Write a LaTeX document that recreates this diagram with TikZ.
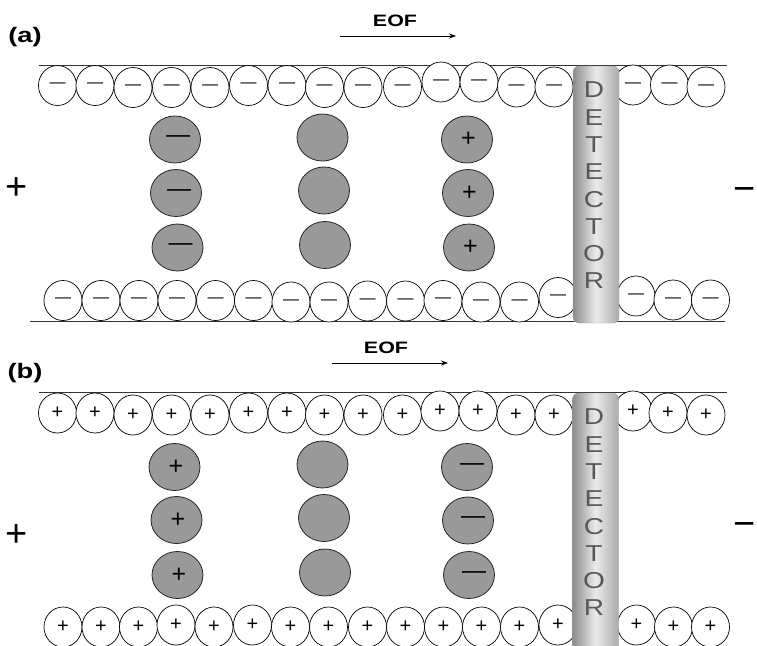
\documentclass[tikz,border=0pt]{standalone}
\usepackage{fontspec}
\setmainfont{Liberation Sans}
\usetikzlibrary{shapes.geometric,arrows.meta}
\newcommand\wdr[1]{\scalebox{1.22}[1]{#1}}
\newcommand\wdt[1]{\scalebox{1.3}[1]{#1}}
\begin{document}
\begin{tikzpicture}[x=1pt,y=-1pt,
  wall/.style={draw=black!80,line width=0.9pt},
  ion/.style={ellipse,draw=black,line width=0.7pt,fill=white,minimum width=38pt,minimum height=40pt,inner sep=0pt},
  negion/.style={ion,font=\fontsize{16}{16}\selectfont},
  posion/.style={ion,font=\fontsize{20}{20}\selectfont},
  analyte/.style={ellipse,draw=black!85,line width=0.8pt,fill=black!40,minimum width=51pt,minimum height=47pt,inner sep=0pt},
  neganalyte/.style={analyte,font=\fontsize{24}{24}\selectfont},
  posanalyte/.style={analyte,font=\fontsize{25}{25}\selectfont},
  detbar/.style={rounded corners=6pt,minimum width=46pt,inner sep=0pt,left color=black!45,right color=black!33,middle color=black!8,draw=black!35,line width=0.4pt},
  detlabel/.style={align=center,text=black!65,font=\fontsize{23}{27.3}\selectfont,inner sep=0pt},
  eoflabel/.style={font=\bfseries\fontsize{16.5}{16.5}\selectfont,inner sep=0pt},
  panellabel/.style={font=\bfseries\fontsize{21}{21}\selectfont,inner sep=0pt},
  pole/.style={font=\fontsize{38}{38}\selectfont,inner sep=0pt},
  flow/.style={line width=0.8pt,-{Stealth[length=7pt,width=5pt]}},
]
\useasboundingbox (0,0) rectangle (757,645);
\clip (0,0) rectangle (757,645);

% ---------------- panel (a) ----------------
\node[panellabel] (laba) at (25,37) {\wdt{(a)}};
\node[eoflabel] (eofa) at (395,21) {\wdt{EOF}};
\coordinate (eofa1) at (340,36);
\coordinate (eofa2) at (456,36);
\draw[flow] (eofa1) -- (eofa2);

\coordinate (wta1) at (39,65);  \coordinate (wta2) at (727,65);
\coordinate (wba1) at (30,321); \coordinate (wba2) at (725,321);
\draw[wall] (wta1) -- (wta2);
\draw[wall] (wba1) -- (wba2);

\foreach \x/\y [count=\i] in {57.5/85.5,95/85.5,133/87.5,171.5/87.5,210/87.5,248.5/85.5,287/85.5,324.5/87.5,363/87.5,402.5/87,441/82,479/82,516.5/87,554/87,633/85,669.5/85,706/87}
  \node[negion] (ta\i) at (\x,\y) {—};
\foreach \x/\y [count=\i] in {63/300.5,101/300.5,139/300.5,177/300.5,215.5/300.5,253.5/300.5,291/302,329/302,367.5/301,405.5/301,443/300.5,481/302,519.5/302,558/297.5,636/296,673/300,710.5/300}
  \node[negion] (ba\i) at (\x,\y) {—};

\foreach \x/\y [count=\i] in {175/139.5,176/193,177.5/247.5}
  \node[neganalyte] (la\i) at (\x,\y) {\hspace{6pt}—};
\foreach \x/\y [count=\i] in {322.5/137.5,324/190.5,325/245}
  \node[analyte] (ma\i) at (\x,\y) {};
\foreach \x/\y [count=\i] in {467/139.5,468/193,469/247.5}
  \node[posanalyte] (ra\i) at (\x,\y) {\raisebox{-6pt}{\hspace{3pt}+}};

\node[detbar,minimum height=257pt] (deta) at (596,194.5) {};
\node[detlabel] (deta text) at (594,185.5) {\wdr{D}\\\wdr{E}\\\wdr{T}\\\wdr{E}\\\wdr{C}\\\wdr{T}\\\wdr{O}\\\wdr{R}};

\node[pole] (plusa) at (17,189) {+};
\node[pole] (minusa) at (745,195) {−};

% ---------------- panel (b) ----------------
\node[panellabel] (labb) at (25,373) {\wdt{(b)}};
\node[eoflabel] (eofb) at (386,348) {\wdt{EOF}};
\coordinate (eofb1) at (332,363);
\coordinate (eofb2) at (448,363);
\draw[flow] (eofb1) -- (eofb2);

\coordinate (wtb1) at (39,392);  \coordinate (wtb2) at (727,392);
\draw[wall] (wtb1) -- (wtb2);

\foreach \x/\y [count=\i] in {57.5/413,95/413,133/415,171.5/415,210/415,248.5/413,287/413,324.5/415,363/415,402.5/415,440/411,478/411,516/415,554/415,633/411,668/413,706/415}
  \node[posion] (tb\i) at (\x,\y) {+};
\foreach \x/\y [count=\i] in {63/627,101/627,138.5/627,176/625,214/627,252.5/625,290.5/627,328.5/627,367.5/627,405.5/627,443.5/627,481.5/627,519.5/627,558/625,636.5/625,673.5/627,710.5/627}
  \node[posion] (bb\i) at (\x,\y) {+};

\foreach \x/\y [count=\i] in {174.5/467,176.5/520,177.5/575}
  \node[posanalyte] (lb\i) at (\x,\y) {\raisebox{-6pt}{\hspace{3pt}+}};
\foreach \x/\y [count=\i] in {322.5/464.5,324/518,325/572.5}
  \node[analyte] (mb\i) at (\x,\y) {};
\foreach \x/\y [count=\i] in {467/467,468/520.5,469/575}
  \node[neganalyte] (rb\i) at (\x,\y) {\hspace{10pt}—};

\node[detbar,minimum height=264pt] (detb) at (595.5,525) {};
\node[detlabel] (detb text) at (594,512.5) {\wdr{D}\\\wdr{E}\\\wdr{T}\\\wdr{E}\\\wdr{C}\\\wdr{T}\\\wdr{O}\\\wdr{R}};

\node[pole] (plusb) at (17,536) {+};
\node[pole] (minusb) at (745,529) {−};
\end{tikzpicture}
\end{document}
